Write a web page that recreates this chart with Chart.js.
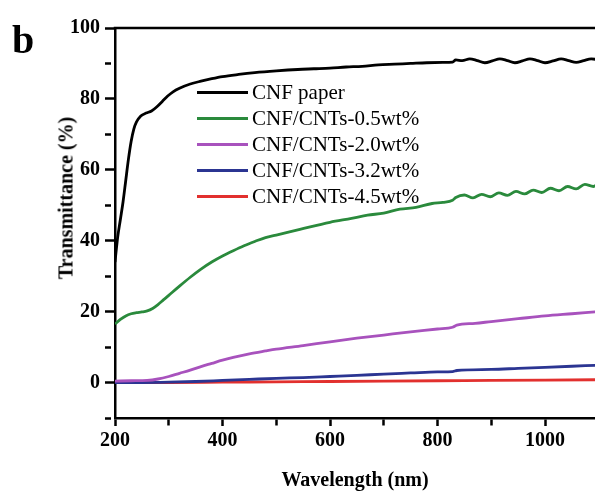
<!DOCTYPE html>
<html>
<head>
<meta charset="utf-8">
<script src="https://cdn.jsdelivr.net/npm/chart.js@4"></script>
<style>
  body { margin: 0; background: #fff; }
  #wrap { position: relative; width: 595px; height: 496px; overflow: hidden; }
  #panel { position: absolute; left: 12px; top: 20px; font-family: "Liberation Serif", "Times New Roman", serif; font-weight: bold; font-size: 40px; line-height: 40px; }
  #ytitle { position: absolute; left: 66px; top: 198px; transform: translate(-50%, -50%) rotate(-90deg);
            font-family: "Liberation Serif", "Times New Roman", serif; font-weight: bold; font-size: 20px; white-space: nowrap; }
  #legend { position: absolute; left: 197px; top: 79px; font-family: "Liberation Serif", "Times New Roman", serif; font-size: 21px; }
  .row { display: flex; align-items: center; height: 26.2px; }
  .sw { width: 51px; height: 3px; margin-right: 4px; }
</style>
</head>
<body>
<div id="wrap">
  <canvas id="specChart" width="595" height="496"></canvas>
  <div id="panel">b</div>
  <div id="ytitle">Transmittance (%)</div>
  <div id="legend"></div>
</div>
<script>
// series names and colours
const names = ['CNF paper', 'CNF/CNTs-0.5wt%', 'CNF/CNTs-2.0wt%', 'CNF/CNTs-3.2wt%', 'CNF/CNTs-4.5wt%'];
const colores = ['#000000', '#2a8a3c', '#a852bd', '#2b3592', '#e2302e'];

// CNF paper
const wlPaper = [200, 205, 210, 215, 220, 225, 230, 235, 240, 248, 258, 268, 278, 288, 298, 308, 320, 340, 360, 380, 400, 430, 460, 500, 540, 570, 600, 630, 660, 690, 720, 750, 780, 810, 828, 834, 846, 860, 874, 888, 902, 916, 930, 944, 958, 972, 986, 1000, 1015, 1030, 1044, 1058, 1072, 1086, 1100];
const tPaper = [34, 41, 46, 51, 57, 63, 68, 71.5, 73.5, 75.2, 76, 76.6, 77.8, 79.3, 80.8, 82, 83, 84.2, 85, 85.7, 86.3, 86.9, 87.4, 87.9, 88.3, 88.5, 88.7, 89.0, 89.2, 89.6, 89.8, 90.0, 90.2, 90.3, 90.4, 91.0, 90.8, 91.3, 90.8, 90.2, 90.7, 91.3, 90.8, 90.2, 90.7, 91.3, 90.8, 90.2, 90.7, 91.3, 90.8, 90.3, 90.8, 91.3, 91.0];

// CNF/CNTs-0.5wt%
const wl05 = [200, 210, 220, 230, 240, 250, 260, 270, 280, 290, 300, 320, 340, 360, 380, 400, 420, 440, 460, 480, 500, 544, 600, 640, 670, 700, 730, 760, 790, 810, 828, 834, 850, 866, 882, 898, 914, 930, 946, 962, 978, 994, 1010, 1026, 1042, 1058, 1074, 1090, 1100];
const t05 = [16.5, 17.8, 18.8, 19.4, 19.7, 19.9, 20.2, 20.9, 22, 23.3, 24.6, 27.2, 29.7, 32, 34, 35.7, 37.2, 38.6, 39.8, 40.9, 41.6, 43.2, 45.2, 46.3, 47.2, 47.8, 48.9, 49.4, 50.5, 50.8, 51.4, 52.2, 52.9, 52.1, 53.1, 52.4, 53.5, 52.8, 53.9, 53.2, 54.3, 53.6, 54.8, 54.1, 55.3, 54.6, 55.9, 55.3, 56.2];

// CNF/CNTs-2.0wt%
const wl20 = [200, 230, 260, 280, 300, 320, 340, 360, 380, 400, 420, 450, 480, 500, 550, 600, 650, 700, 750, 800, 828, 836, 870, 900, 950, 1000, 1050, 1100];
const t20 = [0.4, 0.5, 0.6, 1.0, 1.7, 2.6, 3.5, 4.5, 5.4, 6.3, 7.1, 8.1, 8.9, 9.4, 10.4, 11.5, 12.5, 13.4, 14.3, 15.1, 15.6, 16.2, 16.7, 17.2, 18.0, 18.8, 19.4, 20.0];

// CNF/CNTs-3.2wt%
const wl32 = [200, 250, 300, 350, 400, 450, 500, 550, 600, 650, 700, 750, 800, 828, 836, 900, 950, 1000, 1050, 1100];
const t32 = [0, 0, 0.1, 0.3, 0.6, 0.9, 1.2, 1.4, 1.7, 2.0, 2.4, 2.7, 3.0, 3.1, 3.4, 3.7, 4.0, 4.3, 4.6, 4.9];

// CNF/CNTs-4.5wt%
const wl45 = [200, 300, 400, 500, 600, 700, 800, 900, 1000, 1100];
const t45 = [0, 0, 0.1, 0.2, 0.3, 0.4, 0.5, 0.6, 0.7, 0.8];

// axis ticks (majors get labels)
const xTickVals = [200, 300, 400, 500, 600, 700, 800, 900, 1000];
const xTicksMajor = [200, 400, 600, 800, 1000];
const yTickVals = [-10, 0, 10, 20, 30, 40, 50, 60, 70, 80, 90, 100];
const yTicksMajor = [0, 20, 40, 60, 80, 100];

const wls = [wlPaper, wl05, wl20, wl32, wl45];
const ts = [tPaper, t05, t20, t32, t45];

const datasets = names.map((n, i) => ({
    label: n,
    data: wls[i].map((w, j) => ({x: w, y: ts[i][j]})),
    borderColor: colores[i],
    borderWidth: 2.8,
    pointRadius: 0,
    fill: false,
    cubicInterpolationMode: 'monotone'
}));

// legend in HTML
let legend = document.getElementById('legend');
names.forEach((n, i) => {
    let row = document.createElement('div');
    row.className = 'row';
    row.innerHTML = '<div class="sw" style="background:' + colores[i] + '"></div><span>' + n + '</span>';
    legend.appendChild(row);
});

// top frame line
const topLine = {
    id: 'topLine',
    afterDraw(chart) {
        const {ctx, chartArea} = chart;
        ctx.save();
        ctx.strokeStyle = '#000';
        ctx.lineWidth = 2.5;
        ctx.beginPath();
        ctx.moveTo(chartArea.left - 1.25, chartArea.top);
        ctx.lineTo(chartArea.right, chartArea.top);
        ctx.stroke();
        ctx.restore();
    }
};

Chart.defaults.font.family = '"Liberation Serif", "Times New Roman", serif';
Chart.defaults.color = '#000';

const ctx = document.getElementById('specChart').getContext('2d');
const chart = new Chart(ctx, {
    type: 'line',
    data: { datasets: datasets },
    options: {
        responsive: false,
        animation: false,
        layout: { padding: { top: 28, right: 0, bottom: 0, left: 0 } },
        plugins: { legend: { display: false }, tooltip: { enabled: false } },
        scales: {
            x: {
                type: 'linear',
                min: 200,
                max: 1093,
                afterFit: (s) => { s.height = 78; },
                afterBuildTicks: (s) => { s.ticks = xTickVals.map(v => ({value: v})); },
                border: { display: true, color: '#000', width: 2.5 },
                grid: {
                    drawOnChartArea: false,
                    drawTicks: true,
                    tickLength: 8,
                    tickWidth: 2.5,
                    tickColor: '#000',
                    tickBorderDash: (c) => xTicksMajor.includes(c.tick && c.tick.value) ? [] : [6, 40]
                },
                ticks: {
                    autoSkip: false,
                    maxRotation: 0,
                    padding: 3,
                    font: { size: 20, weight: 'bold' },
                    callback: (v) => xTicksMajor.includes(v) ? String(v) : ''
                },
                title: {
                    display: true,
                    text: 'Wavelength (nm)',
                    font: { size: 20, weight: 'bold' },
                    padding: { top: 0, bottom: 3 }
                }
            },
            y: {
                min: -10,
                max: 100,
                afterFit: (s) => { s.width = 115; },
                afterBuildTicks: (s) => { s.ticks = yTickVals.map(v => ({value: v})); },
                border: { display: true, color: '#000', width: 2.5 },
                grid: {
                    drawOnChartArea: false,
                    drawTicks: true,
                    tickLength: 10,
                    tickWidth: 2.5,
                    tickColor: '#000',
                    tickBorderDash: (c) => yTicksMajor.includes(c.tick && c.tick.value) ? [] : [6, 40]
                },
                ticks: {
                    autoSkip: false,
                    padding: 5,
                    font: { size: 20, weight: 'bold' },
                    callback: (v) => yTicksMajor.includes(v) ? String(v) : ''
                }
            }
        }
    },
    plugins: [topLine]
});
</script>
</body>
</html>
